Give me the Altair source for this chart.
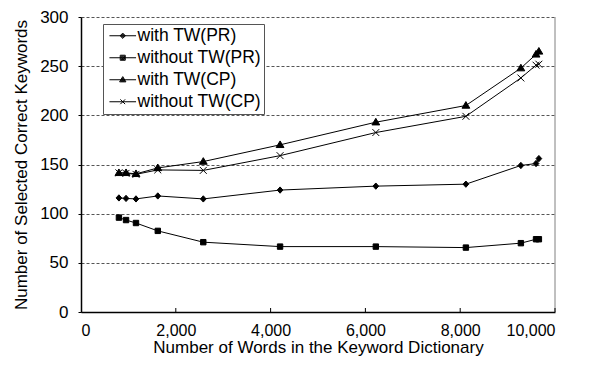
import altair as alt
import pandas as pd

# ---- data ----
words = [800, 950, 1160, 1620, 2580, 4200, 6220, 8120, 9280, 9600, 9660]
with_pr = [116, 115.5, 115, 118, 115, 124, 128, 130, 149, 151, 156]
without_pr = [96, 93.5, 90.5, 82.5, 71, 66.5, 66.5, 65.5, 70, 74, 74]
with_cp = [141.5, 141.5, 140.5, 146.5, 153, 170, 193, 210, 248, 262, 265]
without_cp = [141.5, 141, 140, 144.5, 144, 159, 182.5, 199, 238, 251, 252]

series_names = ["with TW(PR)", "without TW(PR)", "with TW(CP)", "without TW(CP)"]
series_values = [with_pr, without_pr, with_cp, without_cp]
x_ticks = [2000, 4000, 6000, 8000, 10000]

rows = []
for name, vals in zip(series_names, series_values):
    for i, (xv, yv) in enumerate(zip(words, vals)):
        rows.append({"words": xv, "value": yv, "series": name, "key": name, "order": i})
df = pd.DataFrame(rows)

# marker shapes (custom paths)
marker_paths = [
    "M0,-1.05L0.95,0L0,1.05L-0.95,0Z",     # diamond
    "M-0.9,-0.9H0.9V0.9H-0.9Z",            # square
    "M0,-1.3L1.3,0.9L-1.3,0.9Z",           # triangle
    "M-1.15,-1.15L1.15,1.15M-1.15,1.15L1.15,-1.15",  # x cross
]
# legend symbols: a line with the marker drawn as nested strokes
LINE = "M-1.9,0H1.9"
legend_paths = [
    LINE + "M0,-0.38L0.38,0L0,0.38L-0.38,0Z M0,-0.25L0.25,0L0,0.25L-0.25,0Z M0,-0.12L0.12,0L0,0.12L-0.12,0Z",
    LINE + "M-0.36,-0.36H0.36V0.36H-0.36Z M-0.24,-0.24H0.24V0.24H-0.24Z M-0.12,-0.12H0.12V0.12H-0.12Z",
    LINE + "M0,-0.45L0.45,0.3L-0.45,0.3Z M0,-0.28L0.3,0.215L-0.3,0.215Z M0,-0.115L0.15,0.13L-0.15,0.13Z",
    LINE + "M-0.34,-0.34L0.34,0.34M-0.34,0.34L0.34,-0.34",
]

FONT = "Liberation Sans"
W, H = 474, 295

xscale = alt.Scale(domain=[0, 10000], nice=False)
yscale = alt.Scale(domain=[0, 300], nice=False)

base = alt.Chart(df)

lines = base.mark_line(color="black", strokeWidth=1).encode(
    x=alt.X("words:Q", scale=xscale,
            axis=alt.Axis(values=[0] + x_ticks, format=",d", title="Number of Words in the Keyword Dictionary",
                          grid=False, ticks=False, labelPadding=10, titlePadding=1,
                          labelFontSize=16,
                          domainColor="black", labelColor="black", titleColor="black")),
    y=alt.Y("value:Q", scale=yscale,
            axis=alt.Axis(values=[0, 50, 100, 150, 200, 250, 300], title="Number of Selected Correct Keywords",
                          grid=True, gridDash=[3, 2], gridColor="#555555", gridWidth=1,
                          tickSize=3, tickColor="black", labelPadding=10, titlePadding=9,
                          domainColor="black", labelColor="black", titleColor="black")),
    detail="series:N",
    order="order:Q",
)

points = base.mark_point(filled=True, fill="black", stroke="black", strokeWidth=1, size=36, opacity=1).encode(
    x=alt.X("words:Q", scale=xscale),
    y=alt.Y("value:Q", scale=yscale),
    shape=alt.Shape("series:N", scale=alt.Scale(domain=series_names, range=marker_paths), legend=None),
)

legend_layer = base.mark_point(filled=False, stroke="black", strokeWidth=1, clip=True, opacity=1).encode(
    x=alt.X("words:Q", scale=xscale),
    y=alt.value(-200),
    shape=alt.Shape("key:N", scale=alt.Scale(domain=series_names, range=legend_paths),
                    legend=alt.Legend(title=None, orient="none", legendX=22, legendY=7,
                                      strokeColor="#555555", fillColor="white", padding=3,
                                      symbolSize=196, symbolOffset=8, labelOffset=6,
                                      rowPadding=3, labelFontSize=17.5, labelFont=FONT,
                                      labelColor="black", symbolStrokeWidth=1,
                                      symbolStrokeColor="black")),
)

tick_df = pd.DataFrame({"t": x_ticks})
xticks = alt.Chart(tick_df).mark_rule(color="black", strokeWidth=1).encode(
    x=alt.X("t:Q", scale=xscale),
    y=alt.value(H),
    y2=alt.value(H - 4),
)

right_border = alt.Chart(pd.DataFrame({"t": [10000]})).mark_rule(color="#808080", strokeWidth=1).encode(
    x=alt.X("t:Q", scale=xscale),
    y=alt.value(0),
    y2=alt.value(H),
)

chart = alt.layer(lines, right_border, xticks, points, legend_layer).resolve_scale(
    shape="independent"
).resolve_legend(shape="independent").properties(
    width=W, height=H,
    autosize=alt.AutoSizeParams(type="none"),
    padding={"left": 73, "top": 9, "right": 28, "bottom": 49},
    background="white",
).configure_view(stroke=None).configure_axis(
    labelFont=FONT, titleFont=FONT, labelFontSize=17, titleFontSize=17,
    titleFontWeight="normal", domainWidth=1.5,
)

chart.save("out.html", embed_options={"renderer": "svg", "actions": False})
